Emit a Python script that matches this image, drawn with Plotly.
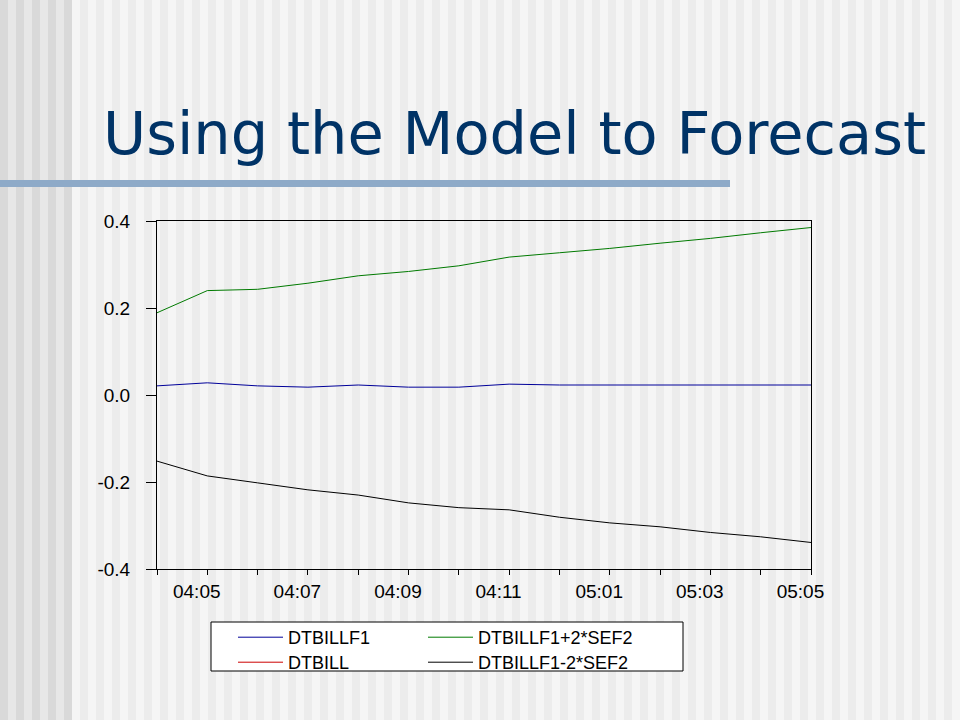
import plotly.graph_objects as go

# ---------------- data ----------------
months = ["04:04", "04:05", "04:06", "04:07", "04:08", "04:09", "04:10",
          "04:11", "04:12", "05:01", "05:02", "05:03", "05:04", "05:05"]
tick_labels = ["", "04:05", "", "04:07", "", "04:09", "",
               "04:11", "", "05:01", "", "05:03", "", "05:05"]
dtbillf1 = [0.021, 0.028, 0.021, 0.018, 0.023, 0.018, 0.018,
            0.025, 0.023, 0.023, 0.023, 0.023, 0.023, 0.023]
dtbill = [None] * 14
upper = [0.189, 0.240, 0.243, 0.257, 0.274, 0.284, 0.297,
         0.317, 0.327, 0.337, 0.349, 0.360, 0.373, 0.385]
lower = [-0.152, -0.186, -0.202, -0.218, -0.230, -0.248, -0.259,
         -0.264, -0.281, -0.294, -0.303, -0.316, -0.326, -0.339]
y_ticks = [-0.4, -0.2, 0.0, 0.2, 0.4]
y_tick_labels = ["-0.4", "-0.2", "0.0", "0.2", "0.4"]

# ---------------- geometry helpers ----------------
W, H = 960, 720
L, R, T, B = 157, 811, 221, 569


def px(x):
    return (x - L) / (R - L)


def py(y):
    return (B - y) / (B - T)


shapes = []
# left darker stripe band
shapes.append(dict(type="rect", xref="paper", yref="paper", x0=px(0), x1=px(72),
                   y0=py(H), y1=py(0), fillcolor="#e7e7e7", line_width=0, layer="below"))
for k in range(5):
    x0 = 16 * k
    shapes.append(dict(type="rect", xref="paper", yref="paper", x0=px(x0), x1=px(x0 + 8),
                       y0=py(H), y1=py(0), fillcolor="#d9d9d9", line_width=0, layer="below"))
x0 = 80
while x0 < W:
    shapes.append(dict(type="rect", xref="paper", yref="paper", x0=px(x0), x1=px(min(x0 + 8, W)),
                       y0=py(H), y1=py(0), fillcolor="#ececec", line_width=0, layer="below"))
    x0 += 16
# title underline bar
shapes.append(dict(type="rect", xref="paper", yref="paper", x0=px(0), x1=px(730),
                   y0=py(187), y1=py(180), fillcolor="#8eaac8", line_width=0, layer="below"))
# legend box
shapes.append(dict(type="rect", xref="paper", yref="paper", x0=px(211), x1=px(683),
                   y0=py(671), y1=py(622), fillcolor="#ffffff",
                   line=dict(color="#000000", width=1), layer="below"))

leg_font = dict(family="Liberation Sans, Arial, sans-serif", size=18, color="#000000")
axis_font = dict(family="Liberation Sans, Arial, sans-serif", size=19, color="#000000")

fig = go.Figure()
fig.add_trace(go.Scatter(x=months, y=dtbillf1, mode="lines", name="DTBILLF1",
                         line=dict(color="#000099", width=1), legend="legend"))
fig.add_trace(go.Scatter(x=months, y=dtbill, mode="lines", name="DTBILL",
                         line=dict(color="#cc0000", width=1), legend="legend3"))
fig.add_trace(go.Scatter(x=months, y=upper, mode="lines", name="DTBILLF1+2*SEF2",
                         line=dict(color="#007a00", width=1), legend="legend2"))
fig.add_trace(go.Scatter(x=months, y=lower, mode="lines", name="DTBILLF1-2*SEF2",
                         line=dict(color="#000000", width=1), legend="legend4"))


def leg(xp, yp):
    return dict(x=px(xp), y=py(yp), xanchor="left", yanchor="top",
                bgcolor="rgba(0,0,0,0)", borderwidth=0, font=leg_font,
                orientation="v", itemwidth=45)


fig.update_layout(
    width=W, height=H,
    margin=dict(l=L, r=W - R, t=T, b=H - B, pad=0),
    paper_bgcolor="#f5f5f5",
    plot_bgcolor="rgba(0,0,0,0)",
    shapes=shapes,
    showlegend=True,
    legend=leg(233, 619),
    legend2=leg(423, 619),
    legend3=leg(233, 644),
    legend4=leg(423, 644),
    annotations=[dict(text="Using the Model to Forecast", xref="paper", yref="paper",
                      x=px(101), y=py(133), xanchor="left", yanchor="middle",
                      showarrow=False,
                      font=dict(family="DejaVu Sans, Verdana, sans-serif", size=59,
                                color="#003366"))],
)
pad = "\u00a0" * 4
fig.update_xaxes(type="category", range=[0, 13], tickmode="array",
                 tickvals=months, ticktext=[t + pad if t else t for t in tick_labels],
                 showline=True, linecolor="#000000", linewidth=1, mirror=True,
                 ticks="outside", ticklen=5, tickcolor="#000000", tickwidth=1,
                 showgrid=False, zeroline=False, tickfont=axis_font,
                 ticklabelstandoff=0)
fig.update_yaxes(range=[-0.4, 0.4], tickmode="array", tickvals=y_ticks,
                 ticktext=y_tick_labels,
                 showline=True, linecolor="#000000", linewidth=1, mirror=True,
                 ticks="outside", ticklen=10, tickcolor="#000000", tickwidth=1,
                 showgrid=False, zeroline=False, tickfont=axis_font,
                 ticklabelstandoff=12)

fig.write_html("out.html", config={"displayModeBar": False},
               post_script="document.body.style.margin='0px';document.body.style.overflow='hidden';")
